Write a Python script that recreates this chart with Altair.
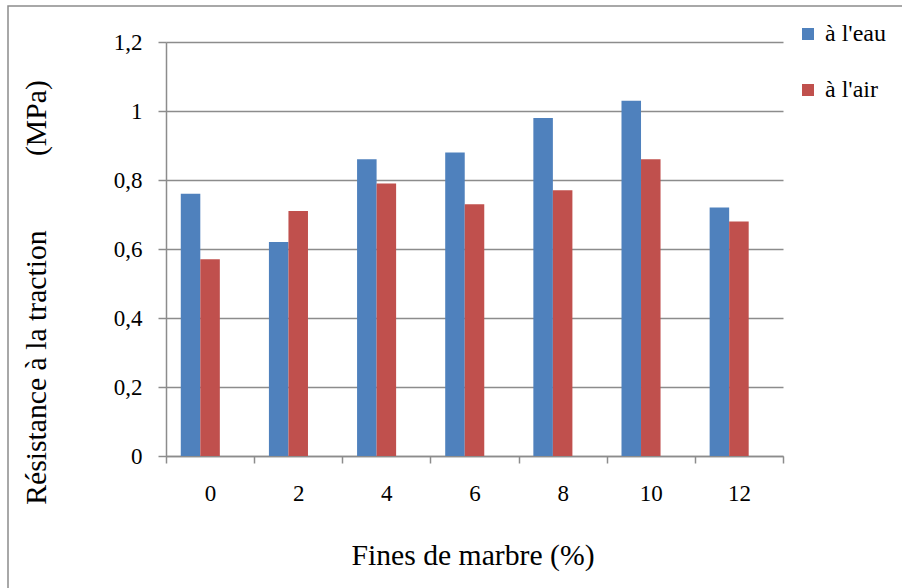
import altair as alt
import pandas as pd

categories = ["0", "2", "4", "6", "8", "10", "12"]
eau = [0.76, 0.62, 0.86, 0.88, 0.98, 1.03, 0.72]
air = [0.57, 0.71, 0.79, 0.73, 0.77, 0.86, 0.68]
series = ["à l'eau", "à l'air"]
colors = ["#4F81BD", "#C0504D"]
y_ticks = [0, 0.2, 0.4, 0.6, 0.8, 1.0, 1.2]

rows = []
for i, c in enumerate(categories):
    rows.append({"cat": c, "serie": series[0], "val": eau[i]})
    rows.append({"cat": c, "serie": series[1], "val": air[i]})
df = pd.DataFrame(rows)

FONT = "Liberation Serif"
W, H = 617, 414
GRID = "#8c8c8c"
TS = 29.7

bars = alt.Chart(df).mark_bar().encode(
    x=alt.X("cat:N", sort=categories,
            scale=alt.Scale(paddingInner=0, paddingOuter=0),
            axis=alt.Axis(title="Fines de marbre (%)", labelAngle=0, tickBand="extent",
                          tickSize=7, labelPadding=19, labelFontSize=23,
                          labelFont=FONT, titleFont=FONT, labelColor="black", titleColor="black",
                          titleFontSize=TS, titleFontWeight="normal",
                          titleX=W / 2 - 2, titleY=99, titleBaseline="middle",
                          domainColor=GRID, tickColor=GRID, domainWidth=1.5,
                          tickWidth=1.5, grid=False)),
    xOffset=alt.XOffset("serie:N", scale=alt.Scale(domain=series + ["_"],
                                                   paddingInner=0, paddingOuter=0.757)),
    y=alt.Y("val:Q", scale=alt.Scale(domain=[0, 1.2], nice=False),
            axis=alt.Axis(values=y_ticks, title="Résistance à la traction" + "\u00a0" * 10 + "(MPa)",
                          labelExpr="replace(format(datum.value, '.1~f'), '.', ',')",
                          labelFont=FONT, titleFont=FONT, labelColor="black", titleColor="black",
                          tickSize=8, labelPadding=16, labelFontSize=23,
                          titleFontSize=TS, titleFontWeight="normal",
                          titleX=-130, titleY=250, titleBaseline="middle", titleAngle=-90,
                          domainColor=GRID, tickColor=GRID, gridColor=GRID,
                          domainWidth=1.5, tickWidth=1.5, gridWidth=1.5)),
    color=alt.Color("serie:N", scale=alt.Scale(domain=series, range=colors),
                    legend=alt.Legend(title=None, orient="none", legendX=630, legendY=-20,
                                      symbolType="square", symbolSize=144,
                                      labelFont=FONT, labelColor="black",
                                      symbolStrokeWidth=0, labelFontSize=24,
                                      labelOffset=5, rowPadding=32, padding=0)),
)

frame = alt.Chart(pd.DataFrame({"a": [0]})).mark_rect(
    fill="white", fillOpacity=0, stroke=GRID, strokeWidth=1.5, clip=False
).encode(
    x=alt.value(-158), x2=alt.value(W + 300),
    y=alt.value(-36), y2=alt.value(H + 300),
)

chart = alt.layer(frame, bars).properties(
    width=W, height=H,
    autosize=alt.AutoSizeParams(type="none"),
    padding={"left": 166, "top": 42, "right": 119, "bottom": 132},
    background="white",
).configure(font=FONT).configure_view(stroke=None)

chart.save("out.html", embed_options={"renderer": "svg", "actions": False})
